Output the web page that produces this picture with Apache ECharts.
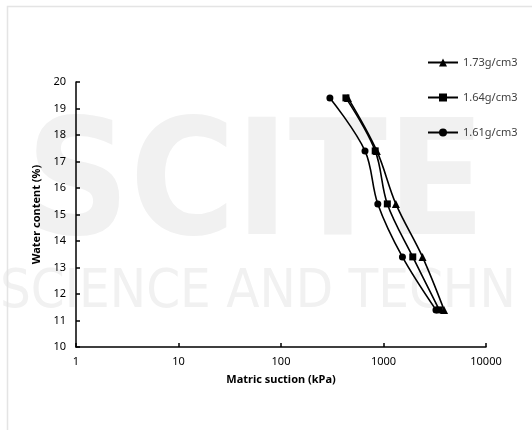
<!DOCTYPE html>
<html>
<head>
<meta charset="utf-8">
<script src="https://cdn.jsdelivr.net/npm/echarts@6/dist/echarts.min.js"></script>
<style>
  html, body { margin: 0; padding: 0; background: #fff; }
  #chart { width: 532px; height: 430px; }
</style>
</head>
<body>
<div id="chart"></div>
<script>
// water content levels (%)
var waterContent = [19.4, 17.4, 15.4, 13.4, 11.4];

// matric suction (kPa) per dry density
var suction173 = [450, 860, 1320, 2400, 3900];
var suction164 = [430, 830, 1090, 1930, 3500];
var suction161 = [300, 660, 880, 1530, 3250];

var seriesNames = ['1.73g/cm3', '1.64g/cm3', '1.61g/cm3'];
var xTicks = [1, 10, 100, 1000, 10000];

function pairs(xs, ys) {
  var out = [];
  for (var i = 0; i < xs.length; i++) {
    out.push([xs[i], ys[i]]);
  }
  return out;
}

var chart = echarts.init(document.getElementById('chart'));

var labelFont = 'Noto Sans';

function makeSeries(name, xs, symbol, size) {
  return {
    name: name,
    type: 'line',
    data: pairs(xs, waterContent),
    smooth: 0.35,
    symbol: symbol,
    symbolSize: size,
    lineStyle: { color: '#000', width: 1.6 },
    itemStyle: { color: '#000' },
    z: 5
  };
}

var option = {
  backgroundColor: '#fff',
  animation: false,
  graphic: [
    // light chart-area frame
    {
      type: 'rect',
      shape: { x: 7.5, y: 6.5, width: 540, height: 440 },
      style: { fill: 'none', stroke: '#e4e4e4', lineWidth: 1.5 },
      z: -10
    },
    // faint watermark
    {
      type: 'text',
      left: 26, top: 112,
      style: {
        text: 'SCITE',
        font: 'bold 160px "DejaVu Sans Condensed"',
        fill: '#f1f1f1'
      },
      z: -20
    },
    {
      type: 'text',
      left: 0, top: 266,
      style: {
        text: 'SCIENCE AND TECHN',
        font: '54px "DejaVu Sans Condensed"',
        fill: '#f1f1f1'
      },
      z: -20
    }
  ],
  grid: {
    left: 76,
    right: 46,
    top: 82,
    bottom: 83
  },
  legend: {
    orient: 'vertical',
    left: 422,
    top: 52,
    itemWidth: 30,
    itemHeight: 10,
    itemGap: 24,
    data: seriesNames,
    textStyle: { color: '#404040', fontFamily: labelFont, fontSize: 11 }
  },
  xAxis: {
    type: 'log',
    logBase: 10,
    min: 1,
    max: 10000,
    splitNumber: 4,
    name: 'Matric suction (kPa)',
    nameLocation: 'middle',
    nameGap: 27,
    nameTextStyle: { color: '#000', fontFamily: labelFont, fontSize: 11, fontWeight: 'bold' },
    axisLine: { lineStyle: { color: '#000', width: 1.5 } },
    axisTick: { inside: true, length: 4, lineStyle: { color: '#000', width: 1.5 } },
    axisLabel: {
      color: '#000', fontFamily: labelFont, fontSize: 11, margin: 9,
      formatter: function (v) { return xTicks.indexOf(Math.round(v)) >= 0 ? String(Math.round(v)) : ''; }
    },
    splitLine: { show: false },
    minorTick: { show: false }
  },
  yAxis: {
    type: 'value',
    min: 10,
    max: 20,
    interval: 1,
    name: 'Water content (%)',
    nameLocation: 'middle',
    nameGap: 31,
    nameTextStyle: { color: '#000', fontFamily: labelFont, fontSize: 11, fontWeight: 'bold' },
    axisLine: { show: true, lineStyle: { color: '#000', width: 1.5 } },
    axisTick: { show: true, inside: true, length: 4, lineStyle: { color: '#000', width: 1.5 } },
    axisLabel: { color: '#000', fontFamily: labelFont, fontSize: 11, margin: 10 },
    splitLine: { show: false }
  },
  series: [
    makeSeries(seriesNames[0], suction173, 'triangle', 8),
    makeSeries(seriesNames[1], suction164, 'rect', 7),
    makeSeries(seriesNames[2], suction161, 'circle', 7)
  ]
};

chart.setOption(option);
</script>
</body>
</html>
